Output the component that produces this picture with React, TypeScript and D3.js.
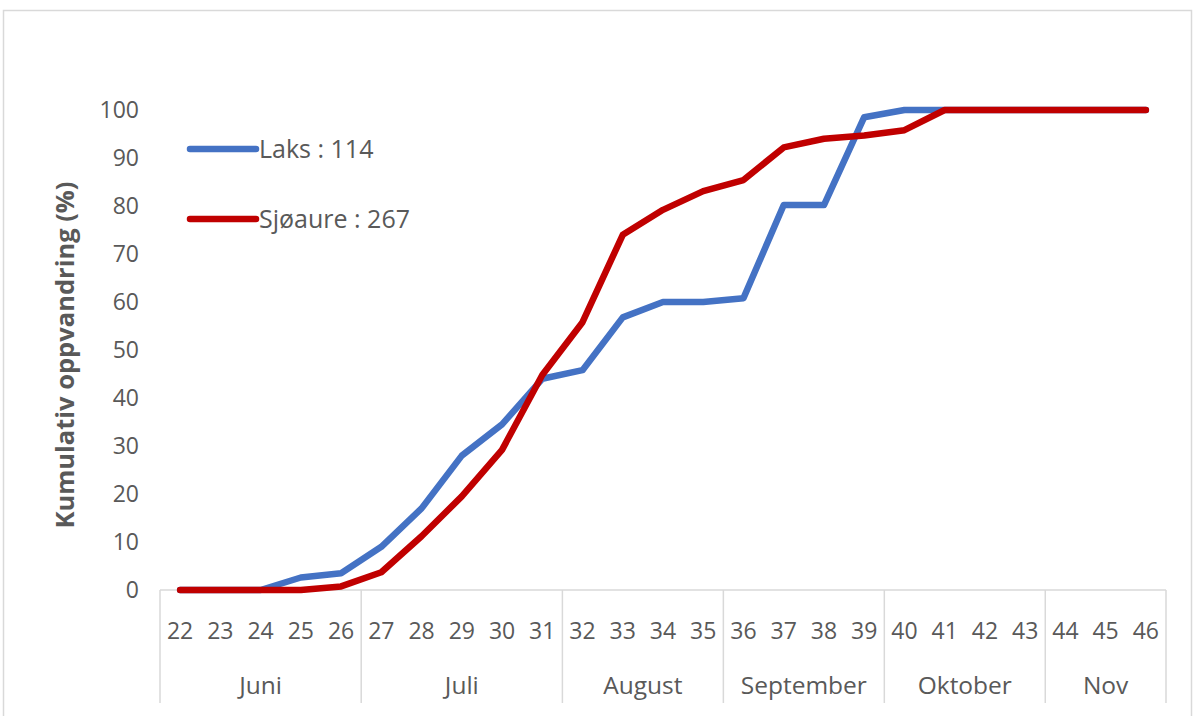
import React from "react";
import * as d3 from "d3";

const weeks = ["22","23","24","25","26","27","28","29","30","31","32","33","34","35","36","37","38","39","40","41","42","43","44","45","46"];
const laks = [0,0,0,2.6,3.5,9.0,17.0,28.0,34.5,44.0,45.8,56.8,60.0,60.0,60.8,80.2,80.2,98.5,100,100,100,100,100,100,100];
const sjoaure = [0,0,0,0,0.75,3.7,11.2,19.5,29.2,44.8,55.8,74.0,79.2,83.1,85.4,92.2,94.0,94.7,95.8,100,100,100,100,100,100];
const months = ["Juni","Juli","August","September","Oktober","Nov"];
const monthWeeks = [["22","26"],["27","31"],["32","35"],["36","39"],["40","43"],["44","46"]];
const yTicks = [0,10,20,30,40,50,60,70,80,90,100];
const seriesNames = ["Laks : 114","Sjøaure : 267"];
const seriesColors = ["#4472C4","#C00000"];

export default function App() {
  const W = 1200, H = 716;
  const x = d3.scaleBand<string>().domain(weeks).range([160, 1166]).padding(0);
  const y = d3.scaleLinear().domain([0, 100]).range([590, 110]);
  const cx = (w: string) => (x(w) as number) + x.bandwidth() / 2;
  const line = d3.line<number>().x((_, i) => cx(weeks[i])).y(d => y(d));
  const font = "'Open Sans', 'Noto Sans', sans-serif";
  const txt = "#595959";
  const grid = "#d9d9d9";
  const series = [laks, sjoaure];
  const axisY = y(0);
  const sepBottom = 703;
  const boundaries: number[] = [x.range()[0], ...monthWeeks.map(m => (x(m[1]) as number) + x.bandwidth())];

  return (
    <svg width={W} height={H} style={{ position: "absolute", left: 0, top: 0, background: "#fff" }}>
      <rect x={3.5} y={10.5} width={1188} height={720} fill="#fff" stroke={grid} strokeWidth={1.5} />
      {/* y tick labels */}
      {yTicks.map(t => (
        <text key={t} x={139} y={y(t)} dy="0.36em" textAnchor="end" fontFamily={font} fontSize={23} fill={txt}>{t}</text>
      ))}
      {/* y title */}
      <text transform={`translate(74,${(y(0) + y(100)) / 2 + 5}) rotate(-90)`} textAnchor="middle" fontFamily={font} fontSize={25.5} fontWeight="bold" fill={txt}>
        Kumulativ oppvandring (%)
      </text>
      {/* category axis */}
      <line x1={x.range()[0]} x2={x.range()[1]} y1={axisY} y2={axisY} stroke={grid} strokeWidth={1.5} />
      {boundaries.map((b, i) => (
        <line key={i} x1={b} x2={b} y1={axisY} y2={sepBottom} stroke={grid} strokeWidth={1.5} />
      ))}
      {weeks.map(w => (
        <text key={w} x={cx(w)} y={639} textAnchor="middle" fontFamily={font} fontSize={23} fill={txt}>{w}</text>
      ))}
      {months.map((m, i) => {
        const a = x(monthWeeks[i][0]) as number;
        const b = (x(monthWeeks[i][1]) as number) + x.bandwidth();
        return (
          <text key={m} x={(a + b) / 2} y={694} textAnchor="middle" fontFamily={font} fontSize={24.5} fill={txt}>{m}</text>
        );
      })}
      {/* lines */}
      {series.map((s, i) => (
        <path key={i} d={line(s) as string} fill="none" stroke={seriesColors[i]} strokeWidth={6.5} strokeLinejoin="round" strokeLinecap="round" />
      ))}
      {/* legend */}
      {seriesNames.map((n, i) => {
        const ly = i === 0 ? 149 : 219;
        return (
          <g key={n}>
            <line x1={190} x2={256} y1={ly} y2={ly} stroke={seriesColors[i]} strokeWidth={6.5} strokeLinecap="round" />
            <text x={259} y={ly} dy="0.36em" fontFamily={font} fontSize={25} fill={txt}>{n}</text>
          </g>
        );
      })}
    </svg>
  );
}
